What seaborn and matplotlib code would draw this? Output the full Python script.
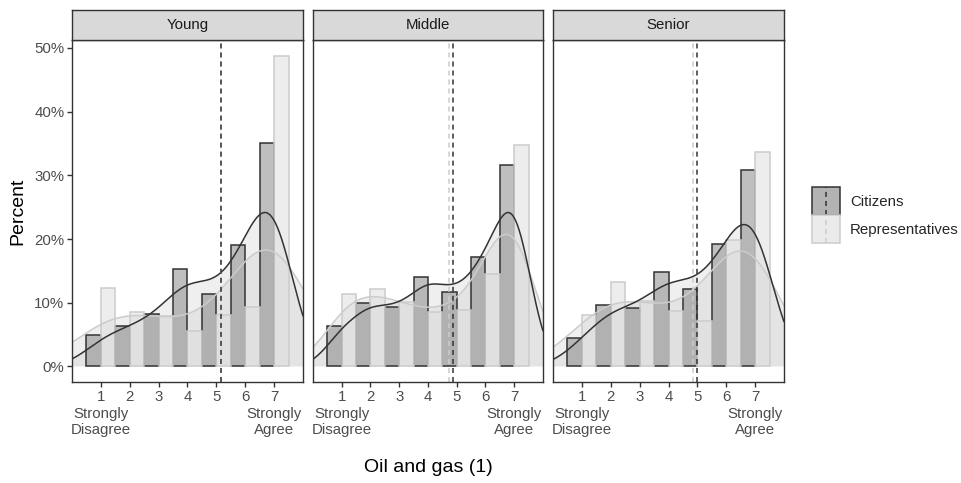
import numpy as np
import pandas as pd
import matplotlib
matplotlib.use("Agg")
import matplotlib.pyplot as plt
import seaborn as sns
from matplotlib.patches import Rectangle
from matplotlib.lines import Line2D
from matplotlib.legend_handler import HandlerBase
from matplotlib.ticker import FixedLocator, FuncFormatter
from matplotlib.transforms import blended_transform_factory

sns.set_theme(style="white")
plt.rcParams['font.family'] = ['Liberation Sans', 'DejaVu Sans']

# ---------------- data ----------------
panels = ["Young", "Middle", "Senior"]
levels = [1, 2, 3, 4, 5, 6, 7]
tick_labels = ["1", "2", "3", "4", "5", "6", "7"]
end_labels = {1: "Strongly\nDisagree", 7: "Strongly\nAgree"}
groups = ["Citizens", "Representatives"]

citizens_young = [5.0, 6.3, 8.2, 15.3, 11.4, 19.1, 35.0]
reps_young = [12.3, 8.6, 7.9, 5.5, 8.0, 9.4, 48.8]
citizens_middle = [6.4, 10.0, 9.3, 14.1, 11.7, 17.2, 31.6]
reps_middle = [11.3, 12.1, 10.1, 8.6, 8.9, 14.5, 34.8]
citizens_senior = [4.4, 9.6, 9.2, 14.9, 12.2, 19.2, 30.9]
reps_senior = [8.0, 13.2, 10.2, 8.75, 7.1, 19.8, 33.6]

mean_citizens = [5.17, 4.87, 5.00]
mean_reps = [5.17, 4.72, 4.86]

# KDE bandwidths (in x units)
bw_citizens = [0.75, 0.62, 0.75]
bw_reps = [1.30, 0.85, 1.15]

panel_data = {
    "Young": (citizens_young, reps_young),
    "Middle": (citizens_middle, reps_middle),
    "Senior": (citizens_senior, reps_senior),
}

# ---------------- style ----------------
W, H = 962, 483
fig = plt.figure(figsize=(W / 100, H / 100), dpi=100)

dark = "#333333"
light = "#cccccc"
cit_fill = (0.5, 0.5, 0.5, 0.5)
rep_fill = (0.8667, 0.8667, 0.8667, 0.5)
dens_fill = "#cccccc"
dens_alpha = 0.3
dash = (0, (3.3, 2.6))
small = 10.8
big = 14.0

panel_x = [(72, 303), (313, 543), (553, 784)]
panel_top, panel_bot = 40, 382
strip_top = 10

ymin, ymax = -0.0244, 0.5124


def fx(px):
    return px / W


def fy(py):
    return 1 - py / H


def fmt_pct(v, pos):
    return f"{int(round(v * 100))}%"


for i, name in enumerate(panels):
    x0, x1 = panel_x[i]
    ax = fig.add_axes([fx(x0), fy(panel_bot), fx(x1) - fx(x0), fy(panel_top) - fy(panel_bot)])
    cit, rep = panel_data[name]
    cit_w = np.array(cit) / 100.0
    rep_w = np.array(rep) / 100.0

    # densities (fill)
    for w, h in ((cit_w, bw_citizens[i]), (rep_w, bw_reps[i])):
        sd = np.sqrt(np.cov(np.array(levels, float), aweights=w))
        sns.kdeplot(x=levels, weights=w, bw_method=h / sd, clip=(0, 8), cut=30,
                    gridsize=500, fill=True, color=dens_fill, alpha=dens_alpha,
                    linewidth=0, edgecolor="none", ax=ax)

    # bars
    df = pd.DataFrame({
        "level": levels * 2,
        "frac": list(cit_w) + list(rep_w),
        "group": [groups[0]] * 7 + [groups[1]] * 7,
    })
    sns.barplot(data=df, x="level", y="frac", hue="group", hue_order=groups,
                native_scale=True, width=1.0, errorbar=None, legend=False,
                palette={groups[0]: "#808080", groups[1]: "#dddddd"},
                saturation=1, ax=ax)
    for cont, fc, ec in zip(ax.containers, (cit_fill, rep_fill), (dark, light)):
        for p in cont:
            p.set_facecolor(fc)
            p.set_edgecolor(ec)
            p.set_linewidth(1.1)
            p.set_zorder(2)

    # density lines
    for w, h, c in ((rep_w, bw_reps[i], light), (cit_w, bw_citizens[i], dark)):
        sd = np.sqrt(np.cov(np.array(levels, float), aweights=w))
        sns.kdeplot(x=levels, weights=w, bw_method=h / sd, clip=(0, 8), cut=30,
                    gridsize=500, color=c, linewidth=1.1, ax=ax, zorder=3)

    # mean lines
    ax.axvline(mean_reps[i], color=light, linestyle=dash, linewidth=1.1, zorder=4)
    ax.axvline(mean_citizens[i], color=dark, linestyle=dash, linewidth=1.1, zorder=5)

    ax.set_xlim(0, 8)
    ax.set_ylim(ymin, ymax)
    ax.set_xlabel("")
    ax.set_ylabel("")
    ax.set_facecolor("white")
    ax.grid(False)
    for s in ax.spines.values():
        s.set_color(dark)
        s.set_linewidth(1.0)
        s.set_visible(True)
        s.set_zorder(10)
    ax.xaxis.set_major_locator(FixedLocator(levels))
    ax.set_xticklabels(tick_labels, fontsize=small, color="#4d4d4d")
    ax.tick_params(axis="x", direction="out", length=3.5, width=1.0, color=dark,
                   pad=2.0, bottom=True)
    # end-point descriptions below the tick numbers
    trans = blended_transform_factory(ax.transData, fig.transFigure)
    for lv, txt in end_labels.items():
        ax.text(lv, fy(422), txt, transform=trans, ha="center", va="center",
                fontsize=small, color="#4d4d4d", linespacing=1.2, clip_on=False)
    if i == 0:
        ax.yaxis.set_major_locator(FixedLocator([0, 0.1, 0.2, 0.3, 0.4, 0.5]))
        ax.yaxis.set_major_formatter(FuncFormatter(fmt_pct))
        ax.tick_params(axis="y", direction="out", length=3.5, width=1.0, color=dark,
                       pad=2.0, labelsize=small, labelcolor="#4d4d4d", left=True)
    else:
        ax.set_yticks([])

    # strip
    sax = fig.add_axes([fx(x0), fy(panel_top), fx(x1) - fx(x0), fy(strip_top) - fy(panel_top)])
    sax.set_facecolor("#d9d9d9")
    sax.set_xticks([])
    sax.set_yticks([])
    for s in sax.spines.values():
        s.set_color(dark)
        s.set_linewidth(1.0)
        s.set_visible(True)
    sax.text(0.5, 0.5, name, ha="center", va="center", fontsize=small,
             color="#1a1a1a", transform=sax.transAxes)

# axis titles
fig.text(fx(428), fy(468), "Oil and gas (1)", ha="center", va="center", fontsize=big, color="black")
fig.text(fx(18), fy(211), "Percent", ha="center", va="center", rotation=90, fontsize=big, color="black")


# legend
class Key:
    def __init__(self, fc, ec, lc):
        self.fc, self.ec, self.lc = fc, ec, lc


class KeyHandler(HandlerBase):
    def create_artists(self, legend, orig_handle, xdescent, ydescent, width, height, fontsize, trans):
        r = Rectangle((-xdescent, -ydescent), width, height, facecolor=orig_handle.fc,
                      edgecolor=orig_handle.ec, linewidth=1.1, transform=trans)
        l = Line2D([-xdescent + width / 2] * 2, [-ydescent, -ydescent + height],
                   color=orig_handle.lc, linestyle=dash, linewidth=1.1, transform=trans)
        return [r, l]


handles = [Key("#b3b3b3", dark, dark), Key("#ebebeb", light, light)]
fs_px = small * 100 / 72
key_px = 28
fig.legend(handles, groups, handler_map={Key: KeyHandler()}, loc="upper left",
           bbox_to_anchor=(fx(812), fy(187)), frameon=False, fontsize=small,
           handlelength=key_px / fs_px, handleheight=(key_px / fs_px - 0.245) / 0.65,
           labelspacing=0, handletextpad=10 / fs_px, borderpad=0, borderaxespad=0)

fig.savefig("out.png", dpi=100, facecolor="white")
